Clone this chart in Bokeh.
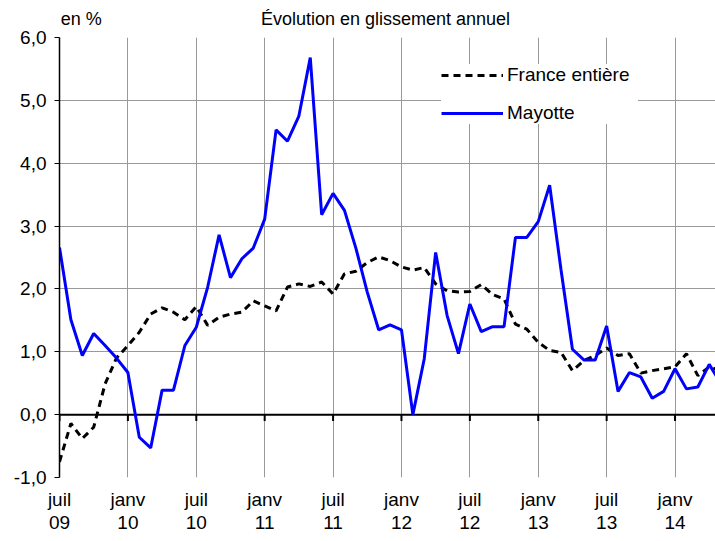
from bokeh.plotting import figure
from bokeh.models import (Range1d, FixedTicker, LinearAxis, Span,
                          Legend, LegendItem, ColumnDataSource)
from bokeh.embed import file_html
from bokeh.resources import INLINE

# ---- data (monthly, July 2009 -> May 2014), year-on-year change in %
mayotte = [2.66, 1.51, 0.94, 1.29, 1.10, 0.90, 0.67, -0.36, -0.53, 0.39,
           0.39, 1.10, 1.39, 2.03, 2.86, 2.18, 2.48, 2.65, 3.11, 4.53,
           4.35, 4.75, 5.68, 3.18, 3.52, 3.25, 2.65, 1.95, 1.35, 1.43,
           1.35, 0.00, 0.89, 2.58, 1.58, 0.97, 1.76, 1.32, 1.40, 1.40,
           2.82, 2.82, 3.07, 3.65, 2.30, 1.04, 0.87, 0.87, 1.41, 0.37,
           0.67, 0.60, 0.26, 0.37, 0.73, 0.41, 0.44, 0.80, 0.50]
france = [-0.75, -0.14, -0.38, -0.20, 0.49, 0.90, 1.10, 1.31, 1.60, 1.70,
          1.63, 1.51, 1.72, 1.42, 1.55, 1.60, 1.63, 1.81, 1.73, 1.65,
          2.03, 2.08, 2.04, 2.11, 1.92, 2.24, 2.28, 2.42, 2.51, 2.45,
          2.35, 2.30, 2.34, 2.08, 1.97, 1.95, 1.96, 2.07, 1.91, 1.84,
          1.44, 1.36, 1.15, 1.02, 0.99, 0.70, 0.86, 0.94, 1.06, 0.94,
          0.97, 0.66, 0.70, 0.73, 0.76, 0.97, 0.62, 0.76, 0.70]
months = list(range(len(mayotte)))  # 0 = juil 2009

tick_pos = [0, 6, 12, 18, 24, 30, 36, 42, 48, 54]
tick_month = ["juil", "janv", "juil", "janv", "juil", "janv", "juil", "janv", "juil", "janv"]
tick_year = ["09", "10", "10", "11", "11", "12", "12", "13", "13", "14"]
y_ticks = [-1, 0, 1, 2, 3, 4, 5, 6]

unit_text = "en %"
title_text = "Évolution en glissement annuel"

FONT = "Liberation Sans"
GRID = "#999999"

src = ColumnDataSource(dict(m=months, may=mayotte, fr=france))

p = figure(width=715, height=541, output_backend="svg",
           toolbar_location=None, x_range=Range1d(0, 57.55),
           y_range=Range1d(-1, 6), min_border_left=59, min_border_right=0,
           min_border_top=37, min_border_bottom=64)
p.outline_line_color = None
p.background_fill_color = "white"
p.border_fill_color = "white"

# y axis
yt = FixedTicker(ticks=y_ticks)
p.yaxis.ticker = yt
p.ygrid.ticker = yt
p.yaxis.major_label_overrides = {v: f"{v:.1f}".replace(".", ",") for v in y_ticks}
p.yaxis.axis_line_color = "black"
p.yaxis.axis_line_width = 1.5
p.yaxis.major_tick_in = 0
p.yaxis.major_tick_out = 5
p.yaxis.major_tick_line_color = "black"
p.yaxis.minor_tick_line_color = None
p.yaxis.major_label_text_font = FONT
p.yaxis.major_label_text_font_size = "19px"
p.yaxis.major_label_text_color = "black"
p.yaxis.major_label_standoff = 8
p.ygrid.grid_line_color = GRID
p.ygrid.grid_line_width = 1

# x axes (two rows of labels)
xt = FixedTicker(ticks=tick_pos)
p.xgrid.ticker = xt
p.xgrid.grid_line_color = GRID
p.xgrid.grid_line_width = 1
ax1 = p.xaxis[0]
ax1.ticker = xt
ax1.major_label_overrides = dict(zip(tick_pos, tick_month))
ax2 = LinearAxis(ticker=xt, major_label_overrides=dict(zip(tick_pos, tick_year)))
p.add_layout(ax2, "below")

# top row: unit label and subtitle, as labels of a bare top axis
top_pos = [1.9, 28.6]
ax_top = LinearAxis(ticker=FixedTicker(ticks=top_pos),
                    major_label_overrides=dict(zip(top_pos, [unit_text, title_text])))
p.add_layout(ax_top, "above")

for ax, so in ((ax1, 5), (ax2, -3), (ax_top, 3)):
    ax.axis_line_color = None
    ax.major_tick_line_color = None
    ax.minor_tick_line_color = None
    ax.major_label_text_font = FONT
    ax.major_label_text_font_size = "19px"
    ax.major_label_text_color = "black"
    ax.major_label_standoff = so
ax_top.major_label_text_font_size = "18px"

# zero line with its ticks
p.add_layout(Span(location=0, dimension="width", line_color="black",
                  line_width=2, level="underlay"))
p.segment(x0=tick_pos, y0=[0] * len(tick_pos), x1=tick_pos,
          y1=[-0.1] * len(tick_pos), line_color="black", line_width=2)

# series
r_fr = p.line("m", "fr", source=src, line_color="black", line_width=3,
              line_dash="7 5")
r_my = p.line("m", "may", source=src, line_color="#0000FF", line_width=3)

legend = Legend(items=[LegendItem(label="France entière", renderers=[r_fr]),
                       LegendItem(label="Mayotte", renderers=[r_my])],
                location=(382, 353), background_fill_color="white",
                background_fill_alpha=1.0, border_line_color=None,
                glyph_width=62, glyph_height=20, label_height=20,
                label_width=131, label_standoff=4, spacing=16, padding=8,
                margin=0, label_text_font=FONT, label_text_font_size="19px",
                label_text_color="black")
p.add_layout(legend)

open("out.html", "w").write(file_html(p, INLINE))
